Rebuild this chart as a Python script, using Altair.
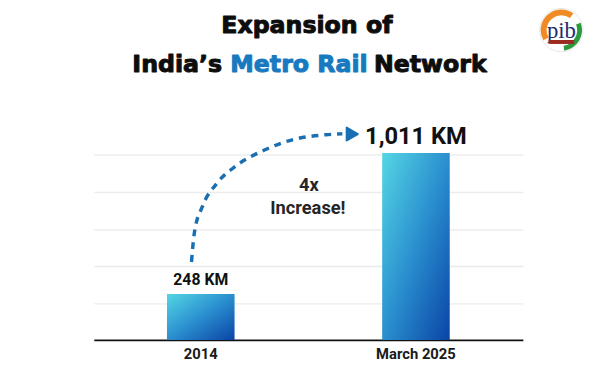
import altair as alt
import pandas as pd

# ---- data ----
categories = ["2014", "March 2025"]
network_km = [248, 1011]
value_labels = ["248 KM", "1,011 KM"]
grid_values = [200, 400, 600, 800, 1000]

# dashed "4x" arrow path
# (x: pixels from the plot's left edge, y: km on the value scale)
arrow_x_px = [99, 102, 110, 125, 145, 172, 202, 235, 252]
arrow_y_km = [421, 581, 720, 848, 944, 1024, 1083, 1109, 1114]
arrow_head_x_px = [262]
arrow_head_y_km = [1113]

PLOT_W = 435
PLOT_H = 225
Y_MAX = 1200

bars_df = pd.DataFrame({"period": categories, "km": network_km, "label": value_labels})
arrow_df = pd.DataFrame({"px": arrow_x_px, "km": arrow_y_km, "order": list(range(len(arrow_x_px)))})
head_df = pd.DataFrame({"px": arrow_head_x_px, "km": arrow_head_y_km})
one = pd.DataFrame({"k": [0]})

y_scale = alt.Scale(domain=[0, Y_MAX], nice=False, zero=True)
x_band = alt.X(
    "period:N",
    sort=categories,
    scale=alt.Scale(paddingInner=0.686, paddingOuter=0.34, round=False),
    axis=alt.Axis(
        title=None, labelAngle=0, labelFont="Roboto", labelFontSize=15,
        labelFontWeight="bold", labelColor="#1a1a1a", labelPadding=7,
        ticks=False, domainColor="#111111", domainWidth=2, grid=False,
    ),
)

gradient = alt.Gradient(
    gradient="linear",
    stops=[
        alt.GradientStop(color="#55d6e4", offset=0),
        alt.GradientStop(color="#2a8fcf", offset=0.5),
        alt.GradientStop(color="#0a44a6", offset=1),
    ],
    x1=0, y1=0, x2=1, y2=1,
)

bars = alt.Chart(bars_df).mark_bar(color=gradient).encode(
    x=x_band,
    y=alt.Y(
        "km:Q", scale=y_scale,
        axis=alt.Axis(
            title=None, values=grid_values, labels=False, ticks=False, domain=False,
            grid=True, gridColor="#ececec", gridWidth=1.5,
        ),
    ),
)

label_small = alt.Chart(bars_df).transform_filter(
    alt.datum.period == categories[0]
).mark_text(
    font="Roboto", fontSize=16, fontWeight="bold", color="#111111",
    baseline="alphabetic", dy=-9,
).encode(x=alt.X("period:N", sort=categories), y=alt.Y("km:Q", scale=y_scale), text="label:N")

label_big = alt.Chart(bars_df).transform_filter(
    alt.datum.period == categories[1]
).mark_text(
    font="Roboto", fontSize=24, fontWeight="bold", color="#111111",
    baseline="alphabetic", dy=-9,
).encode(x=alt.X("period:N", sort=categories), y=alt.Y("km:Q", scale=y_scale), text="label:N")

bar_layer = alt.layer(bars, label_small, label_big)

px_scale = alt.Scale(domain=[0, PLOT_W], nice=False, zero=False)

arrow = alt.Chart(arrow_df).mark_line(
    interpolate="monotone", color="#1a6fb3", strokeWidth=3.5, strokeDash=[7, 6],
).encode(
    x=alt.X("px:Q", scale=px_scale, axis=None),
    y=alt.Y("km:Q", scale=y_scale),
    order="order:Q",
)

arrow_head = alt.Chart(head_df).mark_point(
    shape="triangle-right", filled=True, color="#1a6fb3", size=170, opacity=1,
    strokeJoin="round", stroke="#1a6fb3", strokeWidth=2,
).encode(
    x=alt.X("px:Q", scale=px_scale, axis=None),
    y=alt.Y("km:Q", scale=y_scale),
)

arrow_layer = alt.layer(arrow, arrow_head)

def txt(text, x, y, **kw):
    return alt.Chart(one).mark_text(text=text, **kw).encode(x=alt.value(x), y=alt.value(y))

ann_4x = txt("4x", 218, 68, font="Roboto", fontSize=18.5, fontWeight="bold", color="#262626", baseline="middle")
ann_inc = txt("Increase!", 217, 91, font="Roboto", fontSize=18.5, fontWeight="bold", color="#262626", baseline="middle")

TF = dict(font="DejaVu Sans", fontSize=24, fontWeight="bold", baseline="alphabetic",
          strokeWidth=1.0, strokeJoin="round")
title1 = txt("Expansion of", 216, -86, color="#0d0d0d", stroke="#0d0d0d", align="center", **TF)
title2a = txt("India\u2019s", 130, -47, color="#0d0d0d", stroke="#0d0d0d", align="right", **TF)
title2b = txt("Metro Rail", 208, -47, color="#1979c0", stroke="#1979c0", align="center", **TF)
title2c = txt("Network", 284, -47, color="#0d0d0d", stroke="#0d0d0d", align="left", **TF)

# small PIB logo
LX, LY = 474, -89
logo_bg = alt.Chart(one).mark_arc(radius=22, color="#ffffff", stroke="#e6e6e6", strokeWidth=1,
                                  theta=0, theta2=6.2832).encode(x=alt.value(LX), y=alt.value(LY))
logo_orange = alt.Chart(one).mark_arc(radius=21, radius2=15, color="#f08a24",
                                      theta=4.2, theta2=6.9).encode(x=alt.value(LX), y=alt.value(LY))
logo_green = alt.Chart(one).mark_arc(radius=21, radius2=16, color="#2e9a3e",
                                     theta=1.2, theta2=3.0).encode(x=alt.value(LX), y=alt.value(LY))
logo_text = txt("pib", LX, LY + 1, font="Liberation Serif", fontSize=23, color="#1c2b6e",
                baseline="middle")
logo_band = alt.Chart(one).mark_rect(color="#9b2a1f").encode(
    x=alt.value(LX - 13), x2=alt.value(LX + 13), y=alt.value(LY + 10), y2=alt.value(LY + 14)
)

chart = alt.layer(
    bar_layer, arrow_layer, ann_4x, ann_inc,
    title1, title2a, title2b, title2c,
    logo_bg, logo_orange, logo_green, logo_text, logo_band,
).resolve_scale(x="independent").properties(
    width=PLOT_W, height=PLOT_H,
    autosize=alt.AutoSizeParams(type="none"),
    padding={"left": 87, "top": 109, "right": 66, "bottom": 22},
    background="#ffffff",
).configure_view(stroke=None)

chart.save("out.html", embed_options={"renderer": "svg", "actions": False})
